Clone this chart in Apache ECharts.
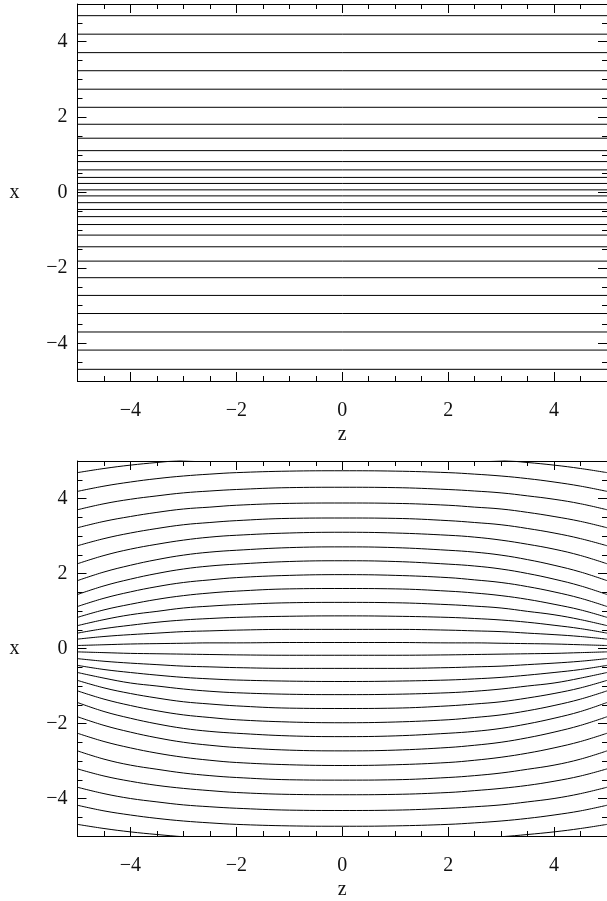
<!DOCTYPE html>
<html>
<head>
<meta charset="utf-8">
<script src="https://cdn.jsdelivr.net/npm/echarts@6/dist/echarts.min.js"></script>
<style>
html,body{margin:0;padding:0;background:#fff;}
#chart{width:607px;height:901px;}
</style>
</head>
<body>
<div id="chart"></div>
<script>
// ---- tick values ----
var majorTicks = [-4, -2, 0, 2, 4];
var axisMin = -5, axisMax = 5, minorStep = 0.5;

// ---- top panel: boundary footpoints (horizontal lines), x values ----
var footpoints = [4.69, 4.20, 3.71, 3.23, 2.74, 2.26, 1.81, 1.44, 1.11, 0.82, 0.60, 0.40, 0.24, 0.07,
                  -0.09, -0.27, -0.45, -0.64, -0.85, -1.13, -1.44, -1.82, -2.26, -2.73, -3.21, -3.70, -4.18, -4.69];

// ---- bottom panel: field lines, x read at |z| = zHalf (symmetric in z) ----
var zHalf = [0, 1, 2, 2.5, 3, 3.5, 4, 4.5, 5];
var line01 = [5.13, 5.12, 5.09, 5.06, 5.02, 4.96, 4.89, 4.80, 4.69];
var line02 = [4.74, 4.73, 4.69, 4.65, 4.60, 4.53, 4.44, 4.33, 4.19];
var line03 = [4.30, 4.29, 4.24, 4.20, 4.15, 4.07, 3.98, 3.86, 3.70];
var line04 = [3.88, 3.87, 3.82, 3.77, 3.72, 3.63, 3.52, 3.39, 3.22];
var line05 = [3.48, 3.47, 3.41, 3.36, 3.30, 3.20, 3.08, 2.93, 2.74];
var line06 = [3.10, 3.08, 3.02, 2.97, 2.89, 2.78, 2.65, 2.48, 2.26];
var line07 = [2.71, 2.69, 2.62, 2.57, 2.49, 2.37, 2.22, 2.04, 1.81];
var line08 = [2.34, 2.32, 2.25, 2.20, 2.12, 2.00, 1.85, 1.67, 1.44];
var line09 = [1.97, 1.95, 1.89, 1.83, 1.76, 1.65, 1.51, 1.34, 1.12];
var line10 = [1.60, 1.59, 1.53, 1.48, 1.41, 1.31, 1.18, 1.03, 0.83];
var line11 = [1.23, 1.22, 1.17, 1.13, 1.08, 0.99, 0.90, 0.77, 0.61];
var line12 = [0.87, 0.86, 0.83, 0.80, 0.76, 0.70, 0.62, 0.53, 0.41];
var line13 = [0.51, 0.51, 0.49, 0.47, 0.45, 0.41, 0.37, 0.32, 0.25];
var line14 = [0.16, 0.16, 0.15, 0.15, 0.14, 0.13, 0.12, 0.10, 0.08];
var line15 = [-0.18, -0.18, -0.17, -0.16, -0.15, -0.14, -0.13, -0.11, -0.09];
var line16 = [-0.53, -0.53, -0.51, -0.49, -0.47, -0.43, -0.39, -0.34, -0.27];
var line17 = [-0.88, -0.87, -0.84, -0.81, -0.77, -0.71, -0.64, -0.56, -0.45];
var line18 = [-1.23, -1.22, -1.18, -1.14, -1.08, -1.00, -0.92, -0.79, -0.64];
var line19 = [-1.60, -1.59, -1.53, -1.48, -1.42, -1.32, -1.20, -1.05, -0.85];
var line20 = [-1.98, -1.96, -1.90, -1.84, -1.77, -1.66, -1.52, -1.35, -1.13];
var line21 = [-2.35, -2.33, -2.26, -2.21, -2.13, -2.01, -1.86, -1.68, -1.44];
var line22 = [-2.73, -2.71, -2.64, -2.58, -2.50, -2.38, -2.23, -2.05, -1.82];
var line23 = [-3.12, -3.10, -3.04, -2.98, -2.90, -2.79, -2.65, -2.48, -2.26];
var line24 = [-3.51, -3.50, -3.44, -3.39, -3.32, -3.22, -3.11, -2.95, -2.73];
var line25 = [-3.90, -3.89, -3.84, -3.79, -3.73, -3.65, -3.54, -3.40, -3.21];
var line26 = [-4.32, -4.31, -4.26, -4.22, -4.17, -4.09, -4.00, -3.87, -3.70];
var line27 = [-4.74, -4.73, -4.69, -4.65, -4.60, -4.53, -4.44, -4.33, -4.18];
var line28 = [-5.13, -5.12, -5.09, -5.06, -5.02, -4.96, -4.89, -4.80, -4.69];
var fieldLines = [line01, line02, line03, line04, line05, line06, line07, line08, line09, line10,
                  line11, line12, line13, line14, line15, line16, line17, line18, line19, line20,
                  line21, line22, line23, line24, line25, line26, line27, line28];

var FONT = 'Liberation Serif';
var TXT = '#111';
function fmt(v) { return v < 0 ? '\u2212' + (-v) : String(v); }

function xAxes(gi) {
  var common = { type: 'value', gridIndex: gi, min: axisMin, max: axisMax, splitLine: { show: false } };
  return [
    Object.assign({}, common, {
      position: 'bottom', interval: minorStep,
      axisLine: { show: true, onZero: false, lineStyle: { color: '#000', width: 1 } },
      axisTick: { show: true, inside: true, length: 5, lineStyle: { color: '#000' } },
      axisLabel: { show: true, customValues: majorTicks, formatter: fmt, margin: 20,
                   fontFamily: FONT, fontSize: 20, color: TXT },
      name: 'z', nameLocation: 'middle', nameGap: 44,
      nameTextStyle: { fontFamily: FONT, fontSize: 20, color: TXT }
    }),
    Object.assign({}, common, {
      position: 'bottom',
      axisLine: { show: false, onZero: false },
      axisTick: { show: true, inside: true, length: 9, customValues: majorTicks, lineStyle: { color: '#000' } },
      axisLabel: { show: false }
    }),
    Object.assign({}, common, {
      position: 'top', interval: minorStep,
      axisLine: { show: true, onZero: false, lineStyle: { color: '#000', width: 1 } },
      axisTick: { show: true, inside: true, length: 5, lineStyle: { color: '#000' } },
      axisLabel: { show: false }
    }),
    Object.assign({}, common, {
      position: 'top',
      axisLine: { show: false, onZero: false },
      axisTick: { show: true, inside: true, length: 9, customValues: majorTicks, lineStyle: { color: '#000' } },
      axisLabel: { show: false }
    })
  ];
}
function yAxes(gi) {
  var common = { type: 'value', gridIndex: gi, min: axisMin, max: axisMax, splitLine: { show: false } };
  return [
    Object.assign({}, common, {
      position: 'left', interval: minorStep,
      axisLine: { show: true, onZero: false, lineStyle: { color: '#000', width: 1 } },
      axisTick: { show: true, inside: true, length: 5, lineStyle: { color: '#000' } },
      axisLabel: { show: true, customValues: majorTicks, formatter: fmt, margin: 10,
                   fontFamily: FONT, fontSize: 20, color: TXT },
      name: 'x', nameLocation: 'middle', nameGap: 58, nameRotate: 0,
      nameTextStyle: { fontFamily: FONT, fontSize: 20, color: TXT }
    }),
    Object.assign({}, common, {
      position: 'left',
      axisLine: { show: false, onZero: false },
      axisTick: { show: true, inside: true, length: 9, customValues: majorTicks, lineStyle: { color: '#000' } },
      axisLabel: { show: false }
    }),
    Object.assign({}, common, {
      position: 'right', interval: minorStep,
      axisLine: { show: true, onZero: false, lineStyle: { color: '#000', width: 1 } },
      axisTick: { show: true, inside: true, length: 5, lineStyle: { color: '#000' } },
      axisLabel: { show: false }
    }),
    Object.assign({}, common, {
      position: 'right',
      axisLine: { show: false, onZero: false },
      axisTick: { show: true, inside: true, length: 9, customValues: majorTicks, lineStyle: { color: '#000' } },
      axisLabel: { show: false }
    })
  ];
}

var series = [];
footpoints.forEach(function (b) {
  series.push({
    type: 'line', xAxisIndex: 0, yAxisIndex: 0, data: [[axisMin, b], [axisMax, b]],
    showSymbol: false, silent: true, lineStyle: { color: '#000', width: 1 }
  });
});
fieldLines.forEach(function (vals) {
  var data = [];
  for (var i = zHalf.length - 1; i >= 1; i--) data.push([-zHalf[i], vals[i]]);
  for (var j = 0; j < zHalf.length; j++) data.push([zHalf[j], vals[j]]);
  series.push({
    type: 'line', xAxisIndex: 4, yAxisIndex: 4, data: data, smooth: 0.4,
    showSymbol: false, silent: true, clip: true, lineStyle: { color: '#000', width: 1 }
  });
});

var chart = echarts.init(document.getElementById('chart'), null, { renderer: 'canvas' });
chart.setOption({
  animation: false,
  backgroundColor: '#fff',
  grid: [
    { left: 77.5, top: 4, width: 533, height: 377 },
    { left: 77.5, top: 461, width: 533, height: 378 }
  ],
  xAxis: xAxes(0).concat(xAxes(1)),
  yAxis: yAxes(0).concat(yAxes(1)),
  series: series
});
</script>
</body>
</html>
